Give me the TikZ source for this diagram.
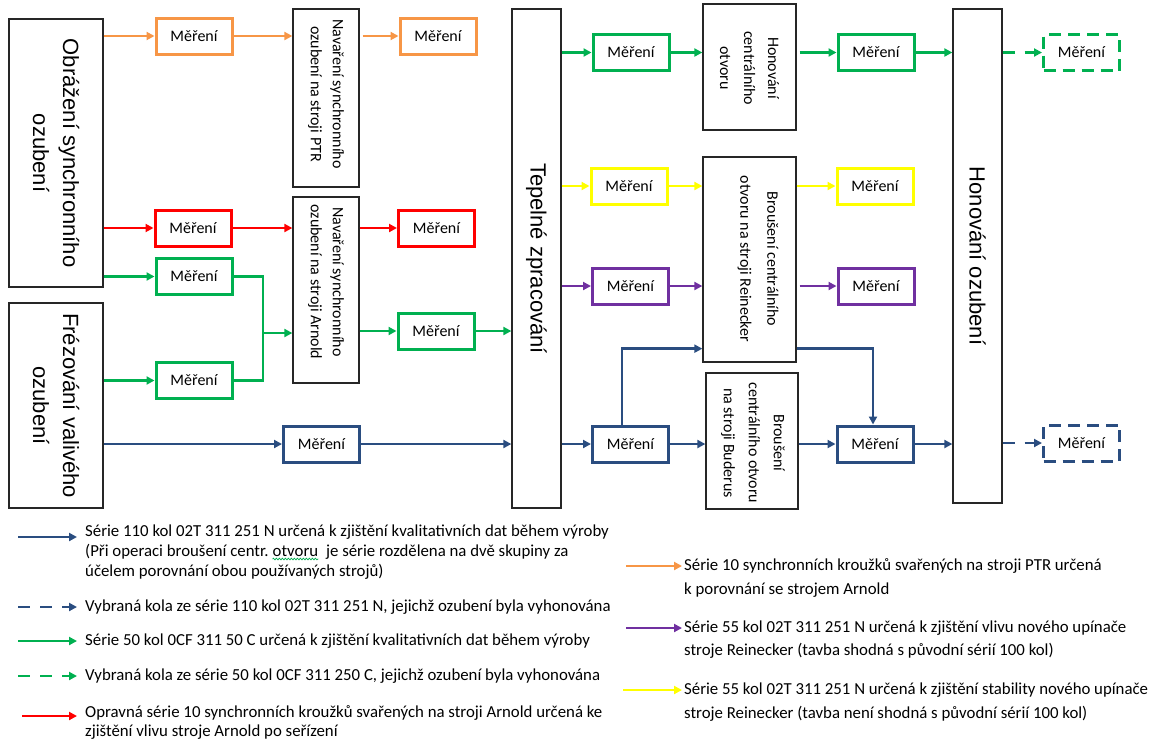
\documentclass[tikz,border=0pt]{standalone}
\usepackage{fontspec}
\setmainfont{Carlito}
\newfontfamily\bigf{Liberation Sans}
\usetikzlibrary{arrows.meta,decorations.pathmorphing}
\definecolor{cOr}{HTML}{F79646}
\definecolor{cRed}{HTML}{FF0000}
\definecolor{cGr}{HTML}{00B050}
\definecolor{cYel}{HTML}{FFFF00}
\definecolor{cPur}{HTML}{7030A0}
\definecolor{cBl}{HTML}{2A4D80}
\tikzset{
 mbox/.style={draw, line width=3pt, minimum width=76pt, minimum height=36pt, inner sep=0pt, text=black, font=\fontsize{16}{19}\selectfont},
 dbox/.style={mbox, dash pattern=on 12pt off 7pt},
 bbox/.style={draw=black!85, line width=1.3pt, inner sep=0pt},
 rtext/.style={rotate=-90, align=center, inner sep=0pt, font=\fontsize{16}{24}\selectfont},
 btext/.style={rotate=-90, align=center, inner sep=0pt, font=\bigf\fontsize{22}{30}\selectfont},
 conn/.style={line width=2.8pt, -{Triangle[length=8pt,width=8pt]}},
 plainln/.style={line width=2.8pt},
 dconn/.style={conn, dash pattern=on 12pt off 10pt},
 leg/.style={anchor=base west, inner sep=0pt, font=\fontsize{16.8}{20}\selectfont},
}
\begin{document}
\begin{tikzpicture}[x=1pt,y=-1pt]
\fill[white] (0,0) rectangle (1161,740);
\useasboundingbox (0,0) rectangle (1161,740);

% big black boxes
\node[bbox, minimum width=94pt, minimum height=268pt] (ob) at (56,153) {};
\node[btext] (obt) at (ob.center) {Obrážení synchronního\\ozubení};
\node[bbox, minimum width=94pt, minimum height=205pt] (fr) at (56,405.5) {};
\node[btext] (frt) at (fr.center) {Frézování valivého\\ozubení};
\node[bbox, minimum width=66pt, minimum height=178pt] (ptr) at (326,98) {};
\node[rtext, font=\fontsize{16}{22}\selectfont] (ptrt) at (326,94) {Navaření synchronního\\ozubení na stroji PTR};
\node[bbox, minimum width=66pt, minimum height=186pt] (arn) at (326,290) {};
\node[rtext, font=\fontsize{16}{22}\selectfont] (arnt) at (326,282) {Navaření synchronního\\ozubení na stroji Arnold};
\node[bbox, minimum width=49pt, minimum height=499pt] (tep) at (536.5,258.5) {};
\node[btext] (tept) at (tep.center) {Tepelné zpracování};
\node[bbox, minimum width=93pt, minimum height=126pt] (honc) at (749.5,67) {};
\node[rtext] (honct) at (749.5,68) {Honování\\centrálního\\otvoru};
\node[bbox, minimum width=93pt, minimum height=205pt] (rein) at (749.5,259.5) {};
\node[rtext, font=\fontsize{16}{27}\selectfont] (reint) at (758,259) {Broušení centrálního\\otvoru na stroji Reinecker};
\node[bbox, minimum width=92pt, minimum height=136pt] (bud) at (752,441) {};
\node[rtext, font=\fontsize{16}{25}\selectfont] (budt) at (753,443) {Broušení\\centrálního otvoru\\na stroji Buderus};
\node[bbox, minimum width=49pt, minimum height=494pt] (hono) at (977.5,256) {};
\node[btext] (honot) at (hono.center) {Honování ozubení};

% measurement boxes
\node[mbox, draw=cOr] (o1) at (194,36) {Měření};
\node[mbox, draw=cOr] (o2) at (438,36) {Měření};
\node[mbox, draw=cRed] (r1) at (193,228) {Měření};
\node[mbox, draw=cRed] (r2) at (436.5,228) {Měření};
\node[mbox, draw=cGr] (gA) at (194,276.5) {Měření};
\node[mbox, draw=cGr] (gB) at (194,380.5) {Měření};
\node[mbox, draw=cGr] (gC) at (436,331) {Měření};
\node[mbox, draw=cBl] (bM) at (321.5,444) {Měření};
\node[mbox, draw=cGr] (gD) at (631,52.5) {Měření};
\node[mbox, draw=cGr] (gE) at (876,52.5) {Měření};
\node[dbox, draw=cGr] (gX) at (1081.5,52.5) {Měření};
\node[mbox, draw=cYel] (yF) at (629,186) {Měření};
\node[mbox, draw=cYel] (yG) at (875,186) {Měření};
\node[mbox, draw=cPur] (pH) at (630.5,286) {Měření};
\node[mbox, draw=cPur] (pI) at (876,286) {Měření};
\node[mbox, draw=cBl] (bJ) at (630.5,444) {Měření};
\node[mbox, draw=cBl] (bK) at (875,444) {Měření};
\node[dbox, draw=cBl] (bX) at (1081.5,443) {Měření};

% orange
\draw[conn,cOr] (ob.east |- o1.west) -- (o1.west);
\draw[conn,cOr] (o1.east) -- (ptr.west |- o1.east);
\draw[conn,cOr,shorten <=3pt] (ptr.east |- o2.west) -- (o2.west);
% red
\draw[conn,cRed] (ob.east |- r1.west) -- (r1.west);
\draw[conn,cRed] (r1.east) -- (arn.west |- r1.east);
\draw[conn,cRed] (arn.east |- r2.west) -- (r2.west);
% green left
\draw[conn,cGr] (ob.east |- gA.west) -- (gA.west);
\draw[conn,cGr] (fr.east |- gB.west) -- (gB.west);
\coordinate (gj) at (263,333);
\draw[plainln,cGr] (gA.east) -| (gj);
\draw[plainln,cGr] (gB.east) -| (gj);
\draw[conn,cGr] (gj) -- (arn.west |- gj);
\draw[conn,cGr] (arn.east |- gC.west) -- (gC.west);
\draw[conn,cGr] (gC.east) -- (tep.west |- gC.east);
% blue left
\draw[conn,cBl] (fr.east |- bM.west) -- (bM.west);
\draw[conn,cBl] (bM.east) -- (tep.west |- bM.east);
% green right
\draw[conn,cGr] (tep.east |- gD.west) -- (gD.west);
\draw[conn,cGr] (gD.east) -- (honc.west |- gD.east);
\draw[conn,cGr,shorten <=3pt] (honc.east |- gE.west) -- (gE.west);
\draw[conn,cGr] (gE.east) -- (hono.west |- gE.east);
\draw[dconn,cGr] (hono.east |- gX.west) -- (gX.west);
% yellow
\draw[conn,cYel] (tep.east |- yF.west) -- (yF.west);
\draw[conn,cYel] (yF.east) -- (rein.west |- yF.east);
\draw[conn,cYel] (rein.east |- yG.west) -- (yG.west);
% purple
\draw[conn,cPur] (tep.east |- pH.west) -- (pH.west);
\draw[conn,cPur] (pH.east) -- (rein.west |- pH.east);
\draw[conn,cPur,shorten <=3pt] (rein.east |- pI.west) -- (pI.west);
% blue right
\draw[conn,cBl] (tep.east |- bJ.west) -- (bJ.west);
\draw[conn,cBl] (bJ.east) -- (bud.west |- bJ.east);
\draw[conn,cBl] (bud.east |- bK.west) -- (bK.west);
\draw[conn,cBl] (bK.east) -- (hono.west |- bK.east);
\draw[dconn,cBl] (hono.east |- bX.west) -- (bX.west);
\coordinate (rin) at ([yshift=14pt]rein.south west);
\coordinate (rout) at ([yshift=14pt]rein.south east);
\draw[conn,cBl] ([xshift=-8.5pt]bJ.north) |- (rin);
\draw[conn,cBl] (rout) -| ([xshift=-2pt]bK.north);

% legend left
\coordinate (l1a) at (18,537); \coordinate (l1b) at (77,537);
\draw[conn,cBl] (l1a) -- (l1b);
\node[leg] (t1a) at (85,536) {Série 110 kol 02T 311 251 N určená k zjištění kvalitativních dat během výroby};
\node[leg] (t1b) at (85,556) {(Při operaci broušení centr.};
\node[leg] (t1w) at ([xshift=3.8pt]t1b.base east) {otvoru};
\node[leg] (t1r) at ([xshift=7.5pt]t1w.base east) {je série rozdělena na dvě skupiny za};
\draw[cGr, line width=0.7pt, decorate, decoration={snake, amplitude=0.8pt, segment length=3pt}] ([yshift=-3pt]t1w.base west) -- ([yshift=-3pt]t1w.base east);
\node[leg] (t1c) at (85,576) {účelem porovnání obou používaných strojů)};
\coordinate (l2a) at (18,607); \coordinate (l2b) at (77,607);
\draw[dconn,cBl] (l2a) -- (l2b);
\node[leg] (t2) at (85,611) {Vybraná kola ze série 110 kol 02T 311 251 N, jejichž ozubení byla vyhonována};
\coordinate (l3a) at (18,641); \coordinate (l3b) at (77,641);
\draw[conn,cGr] (l3a) -- (l3b);
\node[leg] (t3) at (85,645) {Série 50 kol 0CF 311 50 C určená k zjištění kvalitativních dat během výroby};
\coordinate (l4a) at (18,676); \coordinate (l4b) at (77,676);
\draw[dconn,cGr] (l4a) -- (l4b);
\node[leg] (t4) at (85,680) {Vybraná kola ze série 50 kol 0CF 311 250 C, jejichž ozubení byla vyhonována};
\coordinate (l5a) at (22,716); \coordinate (l5b) at (77,716);
\draw[conn,cRed] (l5a) -- (l5b);
\node[leg] (t5a) at (85,717) {Opravná série 10 synchronních kroužků svařených na stroji Arnold určená ke};
\node[leg] (t5b) at (85,736) {zjištění vlivu stroje Arnold po seřízení};

% legend right
\coordinate (l6a) at (626,566); \coordinate (l6b) at (682,566);
\draw[conn,cOr] (l6a) -- (l6b);
\node[leg] (t6a) at (684,570) {Série 10 synchronních kroužků svařených na stroji PTR určená};
\node[leg] (t6b) at (684,594) {k porovnání se strojem Arnold};
\coordinate (l7a) at (626,628); \coordinate (l7b) at (682,628);
\draw[conn,cPur] (l7a) -- (l7b);
\node[leg] (t7a) at (684,632) {Série 55 kol 02T 311 251 N určená k zjištění vlivu nového upínače};
\node[leg] (t7b) at (684,655) {stroje Reinecker (tavba shodná s původní sérií 100 kol)};
\coordinate (l8a) at (623,690); \coordinate (l8b) at (682,690);
\draw[conn,cYel] (l8a) -- (l8b);
\node[leg] (t8a) at (684,694) {Série 55 kol 02T 311 251 N určená k zjištění stability nového upínače};
\node[leg] (t8b) at (684,718) {stroje Reinecker (tavba není shodná s původní sérií 100 kol)};
\end{tikzpicture}
\end{document}
